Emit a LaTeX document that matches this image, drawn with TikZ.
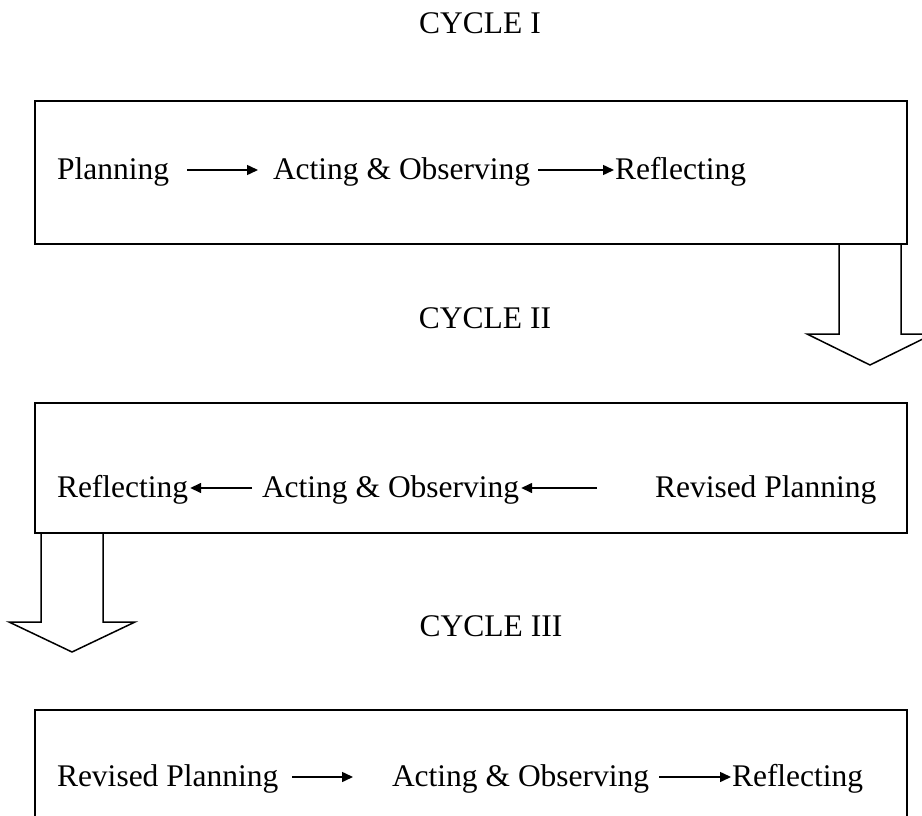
\documentclass[tikz,border=0pt]{standalone}
\usepackage{fontspec}
\setmainfont{Liberation Serif}
\usetikzlibrary{arrows.meta}
\begin{document}
\begin{tikzpicture}[x=1pt,y=-1pt,
  txt/.style={inner sep=0pt, outer sep=0pt, anchor=base west,
    font=\fontsize{31.5}{36}\selectfont, text height=22pt, text depth=4pt},
  title/.style={inner sep=0pt, anchor=base,
    font=\fontsize{31.5}{36}\selectfont},
  frame/.style={draw, line width=1.6pt},
  flow/.style={line width=1.5pt, -{Triangle[length=11pt,width=10pt]}},
  blockarrow/.style={draw, line width=1.5pt, line join=miter}]
\useasboundingbox (0,0) rectangle (922,816);
\clip (0,0) rectangle (922,816);

% ---- Cycle I ----
\node[title] (c1) at (480,34) {CYCLE I};
\draw[frame] (35,101) rectangle (907,244);
\node[txt] (p1) at (57,179) {Planning};
\node[txt] (a1) at (273,179) {Acting \& Observing};
\node[txt] (r1) at (615,179) {Reflecting};
\draw[flow] ([xshift=18pt]p1.east) -- ([xshift=-15pt]a1.west);
\draw[flow] ([xshift=8pt]a1.east) -- ([xshift=-1pt]r1.west);

% block arrow down on the right
\draw[blockarrow] (839,244) -- (839,334) -- (807,334) -- (870,365)
  -- (933,334) -- (901,334) -- (901,244);

% ---- Cycle II ----
\node[title] (c2) at (485,328) {CYCLE II};
\draw[frame] (35,403) rectangle (907,533);
\node[txt] (r2) at (57,497) {Reflecting};
\node[txt] (a2) at (262,497) {Acting \& Observing};
\node[txt] (rp2) at (655,497) {Revised Planning};
\draw[flow] ([xshift=-10pt]a2.west) -- ([xshift=2pt]r2.east);
\draw[flow] ([xshift=-58pt]rp2.west) -- ([xshift=2pt]a2.east);

% block arrow down on the left
\draw[blockarrow] (41,533) -- (41,622) -- (9,622) -- (72,652)
  -- (135,622) -- (103,622) -- (103,533);

% ---- Cycle III ----
\node[title] (c3) at (491,636) {CYCLE III};
\draw[frame] (35,710) rectangle (907,840);
\node[txt] (rp3) at (57,786) {Revised Planning};
\node[txt] (a3) at (392,786) {Acting \& Observing};
\node[txt] (r3) at (732,786) {Reflecting};
\draw[flow] ([xshift=14pt]rp3.east) -- ([xshift=-39pt]a3.west);
\draw[flow] ([xshift=10pt]a3.east) -- ([xshift=-1pt]r3.west);
\end{tikzpicture}
\end{document}
